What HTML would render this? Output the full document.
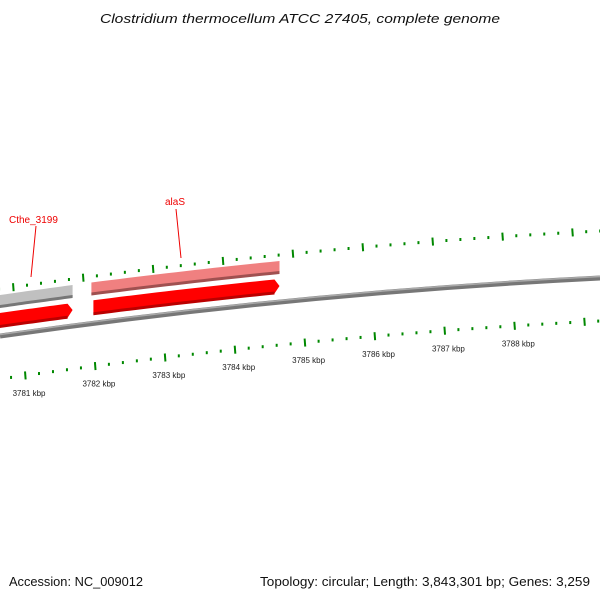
<!DOCTYPE html>
<html><head><meta charset="utf-8"><style>
body{margin:0;background:#fff}
svg{display:block;font-family:"Liberation Sans",sans-serif}
</style></head><body>
<svg id="chart" width="600" height="600" viewBox="0 0 600 600">
<defs>
<linearGradient id="bb" x1="0" y1="0" x2="0" y2="1"><stop offset="0" stop-color="#aaa"/><stop offset="0.5" stop-color="#888"/><stop offset="1" stop-color="#555"/></linearGradient>
</defs>
<text x="300" y="23" text-anchor="middle" font-size="13" font-style="italic" fill="#111" textLength="400" lengthAdjust="spacingAndGlyphs">Clostridium thermocellum ATCC 27405, complete genome</text>
<g id="genes"></g>
<path d="M0,336 Q300,293 600,278" stroke="#777" stroke-width="5" fill="none"/>
<path d="M0,334.5 Q300,291.5 600,276.5" stroke="#aaa" stroke-width="1.5" fill="none"/>
<g id="ticks"></g>
<text x="9" y="223" font-size="10" fill="#e00">Cthe_3199</text>
<line x1="36" y1="226" x2="31" y2="277" stroke="#e00" stroke-width="1"/>
<text x="165" y="205" font-size="10" fill="#e00">alaS</text>
<line x1="176" y1="209" x2="181" y2="258" stroke="#e00" stroke-width="1"/>
<text x="9" y="586" font-size="13" fill="#111" textLength="134" lengthAdjust="spacingAndGlyphs">Accession: NC_009012</text>
<text x="260" y="586" font-size="13" fill="#111" textLength="330" lengthAdjust="spacingAndGlyphs">Topology: circular; Length: 3,843,301 bp; Genes: 3,259</text>
</svg>
<script>
const tickKbp=[3781,3782,3783,3784,3785,3786,3787,3788];
const tickLabels=["3781 kbp","3782 kbp","3783 kbp","3784 kbp","3785 kbp","3786 kbp","3787 kbp","3788 kbp"];
const geneNames=["Cthe_3199","alaS"];
const geneStart=[3780.5,3781.95];
const geneEnd=[3781.68,3784.64];
const geneUpperColor=["#c0c0c0","#f08080"];
const NS="http://www.w3.org/2000/svg";
const x0=3780.642,pxPerKbp=69.9;
function xs(k){return (k-x0)*pxPerKbp;}
function by(x){const t=x/600;return (1-t)*(1-t)*336+2*t*(1-t)*293+t*t*278;}
const tg=document.getElementById('ticks');
function mk(tag,attrs,parent){const e=document.createElementNS(NS,tag);for(const k in attrs)e.setAttribute(k,attrs[k]);parent.appendChild(e);return e;}
for(let k=3780.4;k<=3789.6;k+=0.2){
  const major=Math.abs(k-Math.round(k))<0.01;
  const len=major?8:3;
  const xl=xs(k);
  if(xl>=-2&&xl<=602){
    const yl=by(xl)+43;
    const t=mk('line',{x1:xl,y1:yl-len/2,x2:xl+(major?0.6:0),y2:yl+len/2,stroke:'#080',"stroke-width":2},tg);
    
    
  }
  const xu=xl-12;
  if(xu>=-2&&xu<=602){
    const yu=by(xu)-47;
    const t=mk('line',{x1:xu,y1:yu-len/2,x2:xu+(major?0.6:0),y2:yu+len/2,stroke:'#080',"stroke-width":2},tg);
    
    
  }
}
tickKbp.forEach((k,i)=>{
  const x=xs(k)+4;
  const t=mk('text',{x:x,y:by(x)+64,"font-size":8,"text-anchor":"middle",fill:"#222"},tg);
  t.textContent=tickLabels[i];
  
  
});
const gg=document.getElementById('genes');
function band(xa,xb,o1,o2,arrow){
  const pts=[];const n=20;
  for(let i=0;i<=n;i++){const x=xa+(xb-xa)*i/n;pts.push([x,by(x)+o1]);}
  if(arrow){const xm=xb+5;pts.push([xm,by(xm)+(o1+o2)/2]);}
  for(let i=n;i>=0;i--){const x=xa+(xb-xa)*i/n;pts.push([x,by(x)+o2]);}
  return pts.map(p=>p[0].toFixed(1)+','+p[1].toFixed(1)).join(' ');
}
geneNames.forEach((g,i)=>{
  const a=Math.max(xs(geneStart[i]),-5),b=xs(geneEnd[i]);
  const u=mk('polygon',{points:band(a,b,-41,-29,false),fill:geneUpperColor[i]},gg);
  
  
  const us=mk('polygon',{points:band(a,b,-31,-28,false),fill:i?'#a05050':'#777'},gg);
  
  
  const c=mk('polygon',{points:band(a+2,b-5,-23,-9,true),fill:'#f00'},gg);
  
  
  const cs=mk('polygon',{points:band(a+2,b-5,-11,-8,false),fill:'#b00'},gg);
  
  
});
</script>
</body></html>
